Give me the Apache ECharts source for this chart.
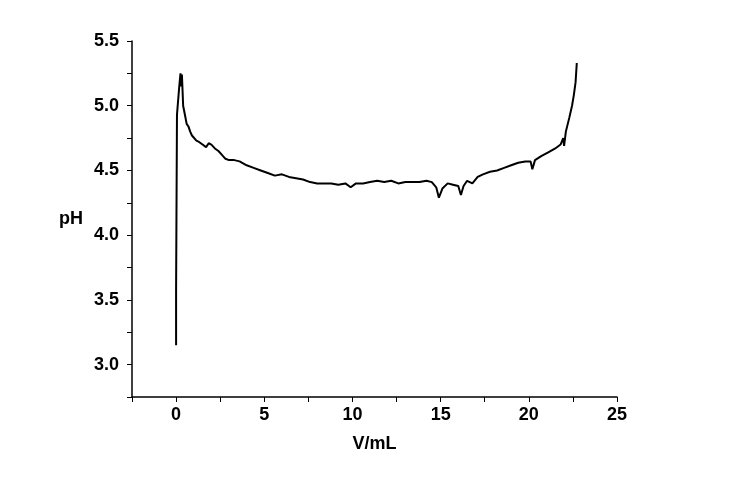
<!DOCTYPE html>
<html><head><meta charset="utf-8">
<script src="https://cdn.jsdelivr.net/npm/echarts@6/dist/echarts.min.js"></script>
<style>html,body{margin:0;padding:0;background:#fff}#c{width:756px;height:485px}</style>
</head><body><div id="c"></div>
<script>
var vol = [0.0,0.0,0.05,0.05,0.15,0.18,0.25,0.3,0.33,0.4,0.5,0.6,0.7,0.8,0.9,1.0,1.15,1.3,1.5,1.7,1.85,2.0,2.2,2.4,2.6,2.8,3.0,3.3,3.6,4.0,4.4,4.8,5.2,5.6,6.0,6.4,6.8,7.2,7.6,8.0,8.4,8.8,9.2,9.6,9.9,10.2,10.6,11.0,11.4,11.8,12.2,12.6,13.0,13.4,13.8,14.2,14.5,14.75,14.9,15.1,15.4,15.7,16.0,16.15,16.3,16.5,16.8,17.1,17.4,17.8,18.2,18.6,19.0,19.4,19.8,20.1,20.2,20.35,20.7,21.1,21.5,21.8,21.95,22.0,22.1,22.3,22.45,22.55,22.65,22.72];
var ph = [3.15,3.57,3.57,4.93,4.93,5.15,5.25,5.15,5.24,5.0,4.93,4.86,4.84,4.8,4.77,4.76,4.73,4.72,4.70,4.68,4.71,4.70,4.67,4.65,4.62,4.59,4.58,4.58,4.57,4.54,4.52,4.50,4.48,4.46,4.47,4.45,4.44,4.43,4.41,4.40,4.40,4.40,4.39,4.40,4.37,4.40,4.40,4.41,4.42,4.41,4.42,4.40,4.41,4.41,4.41,4.42,4.41,4.37,4.29,4.36,4.40,4.39,4.38,4.31,4.38,4.42,4.40,4.45,4.47,4.49,4.50,4.52,4.54,4.56,4.57,4.57,4.51,4.58,4.61,4.64,4.67,4.70,4.75,4.69,4.80,4.91,5.0,5.08,5.18,5.33];
var xLabels = ['0','5','10','15','20','25'];
var yLabels = ['3.0','3.5','4.0','4.5','5.0','5.5'];
var data = vol.map(function(v,i){return [v, ph[i]];});
var font = {fontFamily:'Liberation Sans', fontWeight:'bold', fontSize:18, color:'#000'};
var chart = echarts.init(document.getElementById('c'));
chart.setOption({
  animation:false,
  grid:{left:132,right:139,top:41,bottom:88},
  xAxis:{type:'value',min:-2.5,max:25,interval:2.5,
    name:'V/mL',nameLocation:'middle',nameGap:38,nameTextStyle:Object.assign({},font,{fontSize:18}),
    axisLine:{show:true,onZero:false,lineStyle:{color:'#000',width:1.5}},
    axisTick:{show:true,length:5,lineStyle:{color:'#000'}},
    splitLine:{show:false},
    axisLabel:Object.assign({},font,{margin:9,formatter:function(v){var s=String(v);return xLabels.indexOf(s)>=0?s:'';}})
  },
  yAxis:{type:'value',min:2.75,max:5.5,interval:0.25,
    name:'pH',nameLocation:'middle',nameGap:49,nameRotate:0,nameTextStyle:Object.assign({},font,{fontSize:18}),
    axisLine:{show:true,onZero:false,lineStyle:{color:'#000',width:1.5}},
    axisTick:{show:true,length:5,lineStyle:{color:'#000'}},
    splitLine:{show:false},
    axisLabel:Object.assign({},font,{margin:13,formatter:function(v){var s=v.toFixed(1);return (Math.abs(v*2-Math.round(v*2))<1e-6 && yLabels.indexOf(s)>=0)?s:'';}})
  },
  series:[{type:'line',data:data,showSymbol:false,lineStyle:{color:'#000',width:2},silent:true}]
});
</script></body></html>
